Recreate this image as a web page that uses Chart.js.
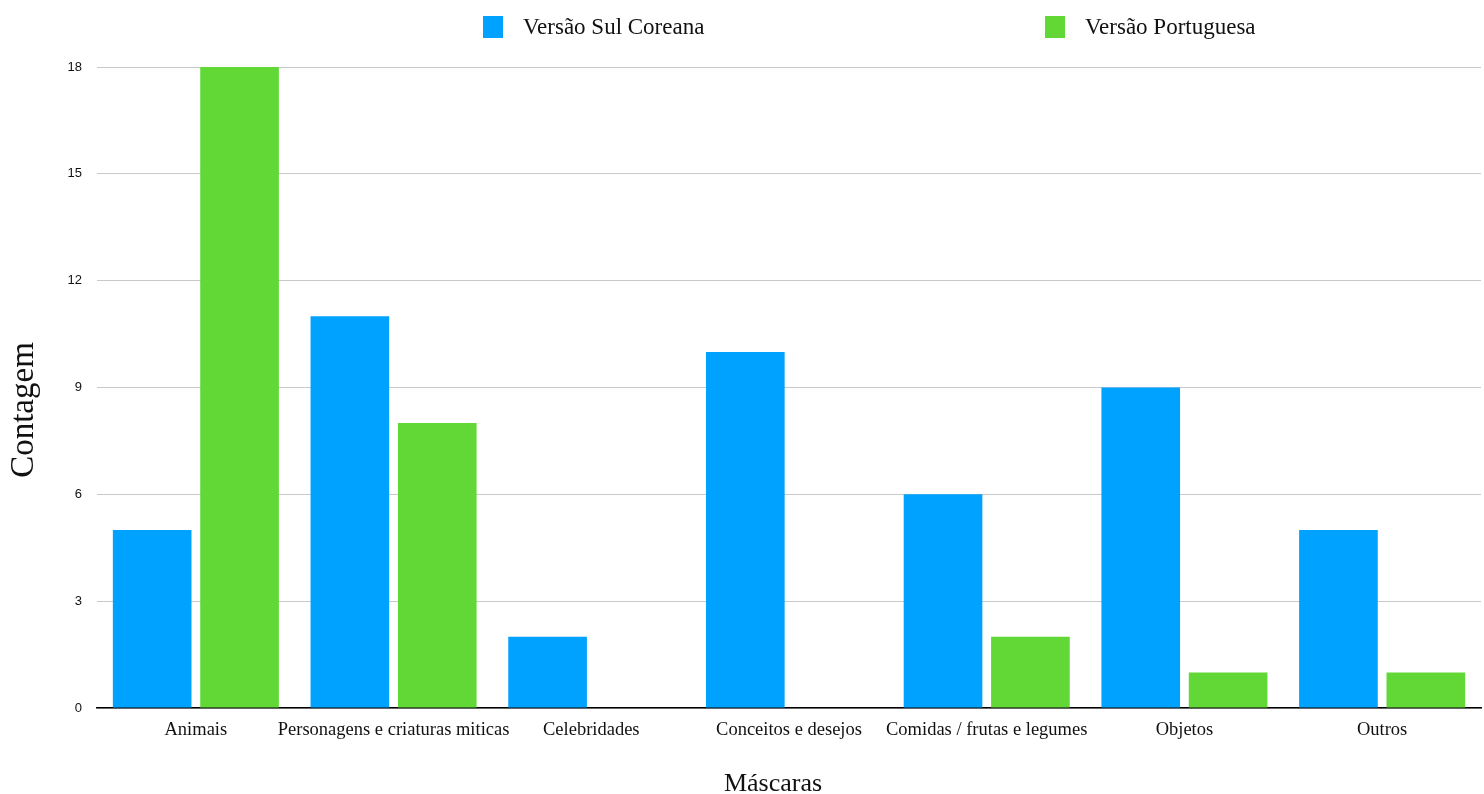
<!DOCTYPE html>
<html>
<head>
<meta charset="utf-8">
<script src="https://cdn.jsdelivr.net/npm/chart.js@4/dist/chart.umd.min.js"></script>
<style>
  html, body { margin: 0; padding: 0; background: #fff; }
  #wrap { width: 1484px; height: 794px; position: relative; }
</style>
</head>
<body>
<div id="wrap"><canvas id="chart"></canvas></div>
<script>
const categories = ['Animais', 'Personagens e criaturas miticas', 'Celebridades', 'Conceitos e desejos',
    'Comidas / frutas e legumes', 'Objetos', 'Outros'];
const coreanValues = [5, 11, 2, 10, 6, 9, 5];
const portugueseValues = [18, 8, 0, 0, 2, 1, 1];
const seriesNames = ['Versão Sul Coreana', 'Versão Portuguesa'];
const xTitle = 'Máscaras';
const yTitle = 'Contagem';
const colors = ['#00A2FF', '#61D836'];

const serif = '"Liberation Serif", "Times New Roman", serif';
const sans = '"Liberation Sans", Arial, sans-serif';

// legend and axis titles drawn by hand, placed like the Numbers export
const decorations = {
    id: 'decorations',
    afterDraw(chart) {
        const ctx = chart.ctx;
        const spots = [483, 1045];
        ctx.save();
        ctx.font = '23px ' + serif;
        ctx.textBaseline = 'middle';
        chart.data.datasets.forEach((ds, i) => {
            ctx.fillStyle = ds.backgroundColor;
            ctx.fillRect(spots[i], 16, 20, 22);
            ctx.fillStyle = '#111';
            ctx.fillText(ds.label, spots[i] + 40, 28);
        });

        ctx.textBaseline = 'alphabetic';
        ctx.textAlign = 'center';
        ctx.font = '26px ' + serif;
        ctx.fillText(xTitle, 773, 791);

        ctx.translate(33, 410);
        ctx.rotate(-Math.PI / 2);
        ctx.font = '33px ' + serif;
        ctx.fillText(yTitle, 0, 0);
        ctx.restore();
    }
};

const ctx = document.getElementById('chart').getContext('2d');
const chart = new Chart(ctx, {
    type: 'bar',
    data: {
        labels: categories,
        datasets: [
            { label: seriesNames[0], data: coreanValues, backgroundColor: colors[0] },
            { label: seriesNames[1], data: portugueseValues, backgroundColor: colors[1] }
        ]
    },
    options: {
        responsive: true,
        maintainAspectRatio: false,
        animation: false,
        categoryPercentage: 0.884,
        barPercentage: 0.9,
        layout: { padding: { top: 67, right: 3, left: 0, bottom: 0 } },
        plugins: {
            legend: { display: false },
            tooltip: { enabled: false }
        },
        scales: {
            x: {
                grid: { display: false, drawTicks: false },
                border: { color: '#000', width: 1.5 },
                ticks: { color: '#111', font: { family: serif, size: 18.5 }, padding: 11, maxRotation: 0, autoSkip: false },
                afterFit: (scale) => { scale.height = 86; }
            },
            y: {
                min: 0,
                max: 18,
                ticks: { stepSize: 3, color: '#111', font: { family: sans, size: 13 }, padding: 15 },
                grid: { color: '#c9c9c9', drawTicks: false },
                border: { display: false },
                afterFit: (scale) => { scale.width = 97; }
            }
        }
    },
    plugins: [decorations]
});
</script>
</body>
</html>
